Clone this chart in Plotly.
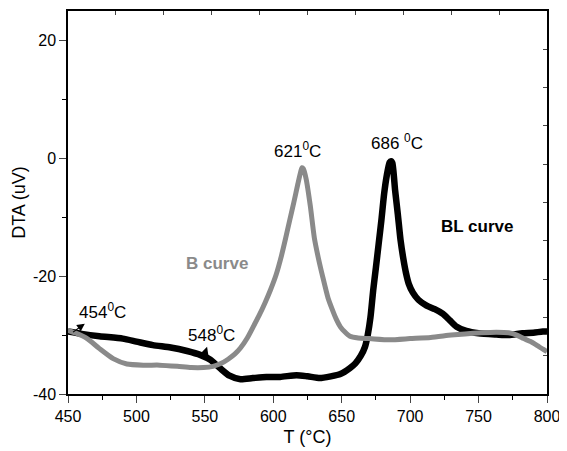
import plotly.graph_objects as go

# BL curve (black)
T_BL = [450, 460, 473, 490, 500, 512, 525, 537, 547, 554, 561, 568, 576, 585, 595, 605, 617, 625, 634, 642,
        649, 656, 660, 664, 667, 669, 671, 673, 675, 677, 679, 681, 683, 685, 686, 687, 689, 691, 693, 695,
        697, 699, 702, 706, 712, 718, 724, 729, 734, 741, 750, 763, 772, 782, 790, 797, 800]
DTA_BL = [-29.4, -29.8, -30.2, -30.6, -31.1, -31.7, -32.1, -32.7, -33.4, -34.2, -35.6, -36.9, -37.5, -37.3, -37.1, -37.1, -36.8, -37.0, -37.3, -37.0,
          -36.6, -35.6, -34.8, -33.5, -32.0, -30.0, -27.0, -22.4, -18.5, -14.5, -10.5, -6.0, -2.8, -0.7, -0.5, -0.8, -5.4, -9.5, -13.9, -17.0,
          -19.5, -21.3, -22.8, -24.0, -25.0, -25.6, -26.4, -27.5, -28.6, -29.3, -29.7, -29.9, -30.0, -29.7, -29.6, -29.4, -29.4]

# B curve (grey)
T_B = [450, 456, 464, 473, 483, 493, 505, 517, 530, 540, 549, 556, 562, 567, 572, 576, 581, 586, 590, 594,
       598, 602, 606, 609, 612, 615, 618, 620, 621, 622, 624, 627, 630, 633, 636, 640, 643, 646, 649, 652,
       656, 662, 670, 685, 700, 715, 730, 740, 752, 763, 772, 778, 783, 788, 793, 797, 800]
DTA_B = [-29.2, -29.7, -30.6, -32.3, -34.0, -34.9, -35.1, -35.1, -35.3, -35.5, -35.5, -35.3, -34.8, -34.1, -33.2, -32.2, -30.5, -28.3, -26.5, -24.5,
         -22.3, -19.8, -16.5, -13.6, -10.5, -7.5, -4.3, -2.3, -1.6, -1.8, -3.5, -8.0, -13.5, -17.0, -20.0, -23.7, -25.6, -27.3, -28.6, -29.4,
         -30.2, -30.5, -30.6, -30.8, -30.6, -30.4, -30.0, -29.8, -29.6, -29.5, -29.6, -30.0, -30.6, -31.1, -31.8, -32.4, -32.8]

X_TICKS = [450, 500, 550, 600, 650, 700, 750, 800]
Y_TICKS = [-40, -20, 0, 20]
Y_TICK_TEXT = ["-40", "-20", "0", "20"]

FONT = "Liberation Sans, Arial, sans-serif"

fig = go.Figure()
fig.add_trace(go.Scatter(x=T_BL, y=DTA_BL, mode="lines", line=dict(color="black", width=6.5, shape="spline", smoothing=0.6),
                         showlegend=False, hoverinfo="skip"))
fig.add_trace(go.Scatter(x=T_B, y=DTA_B, mode="lines", line=dict(color="#8a8a8a", width=5, shape="spline", smoothing=0.6),
                         showlegend=False, hoverinfo="skip"))
# carrier for the top/right tick axes
fig.add_trace(go.Scatter(x=[450], y=[-40], xaxis="x2", yaxis="y2", mode="markers",
                         marker=dict(opacity=0), showlegend=False, hoverinfo="skip"))

# page has an 8px body margin, so the figure is 8px smaller and shifted
fig.update_layout(
    width=559, height=443,
    margin=dict(l=60, r=20, t=3, b=57, autoexpand=False),
    paper_bgcolor="white", plot_bgcolor="white",
    font=dict(family=FONT, size=16, color="black"),
    xaxis=dict(range=[450, 800], tickvals=X_TICKS, ticks="outside", ticklen=7, tickwidth=1.2, automargin=False,
               showline=True, linecolor="black", linewidth=1.5, mirror=True, showgrid=False, zeroline=False,
               minor=dict(dtick=25, tick0=450, ticks="outside", ticklen=4, tickwidth=1.2, tickcolor="black"),
               tickfont=dict(size=16), title=dict(text="T (°C)", font=dict(size=18), standoff=6)),
    yaxis=dict(range=[-40, 25], tickvals=Y_TICKS, ticktext=Y_TICK_TEXT, ticks="outside", ticklen=7, tickwidth=1.2,
               automargin=False,
               showline=True, linecolor="black", linewidth=1.5, mirror=True, showgrid=False, zeroline=False,
               minor=dict(dtick=10, tick0=-40, ticks="outside", ticklen=4, tickwidth=1.2, tickcolor="black"),
               tickfont=dict(size=16), title=dict(text="DTA (uV)", font=dict(size=18), standoff=3)),
    xaxis2=dict(overlaying="x", side="top", range=[450, 800], tick0=450, dtick=35, ticks="inside", ticklen=4,
                tickwidth=1.2, showticklabels=False, showgrid=False, zeroline=False, showline=False, automargin=False),
    yaxis2=dict(overlaying="y", side="right", range=[-40, 25], tick0=-40, dtick=6.5, ticks="inside", ticklen=4,
                tickwidth=1.2, showticklabels=False, showgrid=False, zeroline=False, showline=False, automargin=False),
)

ann_font = dict(family=FONT, size=17, color="black")
annotations = [
    dict(x=618, y=1.4, text="621<sup>0</sup>C", showarrow=False, font=ann_font),
    dict(x=690.4, y=2.7, text="686 <sup>0</sup>C", showarrow=False, font=ann_font),
    dict(x=748.8, y=-11.5, text="<b>BL curve</b>", showarrow=False, font=ann_font),
    dict(x=558.9, y=-17.8, text="<b>B curve</b>", showarrow=False, font=dict(family=FONT, size=17, color="#8a8a8a")),
    # labels with arrows pointing from the curve toward the text
    dict(x=453.7, y=-29.5, text="454<sup>0</sup>C", showarrow=True, ax=29, ay=-21, arrowside="start",
         arrowhead=2, startarrowhead=2, startarrowsize=1.3, arrowwidth=1.2, arrowcolor="black", standoff=0, startstandoff=0,
         font=ann_font),
    dict(x=549.4, y=-33.6, text="548<sup>0</sup>C", showarrow=True, ax=7, ay=-22, arrowside="start",
         arrowhead=2, startarrowhead=2, startarrowsize=1.3, arrowwidth=1.2, arrowcolor="black", standoff=0, startstandoff=0,
         font=ann_font),
]
for a in annotations:
    if not a.get("showarrow"):
        a.setdefault("xanchor", "center")
        a.setdefault("yanchor", "middle")
    fig.add_annotation(**a)

fig.write_html("out.html")
